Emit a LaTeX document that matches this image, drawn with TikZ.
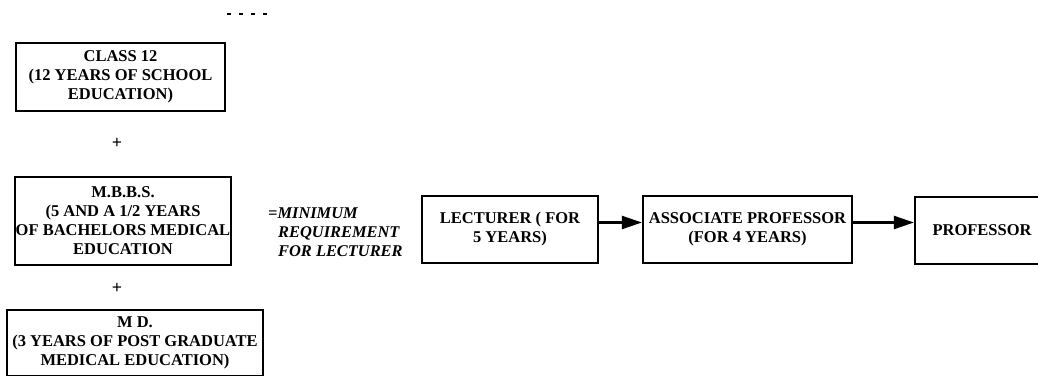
\documentclass[tikz,border=0pt]{standalone}
\usepackage{fontspec}
\setmainfont{Liberation Serif}
\usetikzlibrary{arrows.meta}
\begin{document}
\begin{tikzpicture}[x=1pt,y=-1pt,
  stagebox/.style={draw, line width=2.2pt, align=center, inner sep=0pt,
    font=\fontsize{16.5}{19}\selectfont\bfseries},
  plus/.style={font=\fontsize{18}{18}\selectfont\bfseries, inner sep=0pt},
  note/.style={align=left, inner sep=0pt,
    font=\fontsize{16.4}{19}\selectfont\bfseries\itshape},
  flow/.style={line width=2.2pt, -{Triangle[length=20pt,width=13pt]}}]
  \useasboundingbox (0,0) rectangle (1038,375);
  \clip (0,0) rectangle (1038,375);

  % short dashed mark at the top
  \coordinate (dashA) at (227,14);
  \coordinate (dashB) at (272,14);
  \draw[line width=1.6pt, dash pattern=on 4pt off 8pt] (dashA) -- (dashB);

  % qualification column
  \node[stagebox, minimum width=209pt, minimum height=68pt] (class) at (120.5,77)
    {CLASS 12\\(12 YEARS OF SCHOOL\\EDUCATION)};
  \node[plus] (plusA) at (117,143) {+};
  \node[stagebox, minimum width=216pt, minimum height=88pt] (mbbs) at (123,221)
    {M.B.B.S.\\(5 AND A 1/2 YEARS\\OF BACHELORS MEDICAL\\EDUCATION};
  \node[plus] (plusB) at (117,288) {+};
  \node[stagebox, minimum width=256pt, minimum height=66pt] (md) at (135,343)
    {M D.\\(3 YEARS OF POST GRADUATE\\MEDICAL EDUCATION)};

  \node[note, anchor=north west] (req) at (268,208)
    {=MINIMUM\\\hspace*{10pt}REQUIREMENT\\\hspace*{10pt}FOR LECTURER};

  % career ladder
  \node[stagebox, minimum width=176pt, minimum height=67pt] (lect) at (510,229.5)
    {LECTURER ( FOR\\5 YEARS)};
  \node[stagebox, minimum width=209pt, minimum height=67pt] (assoc) at (747.5,229.5)
    {ASSOCIATE PROFESSOR\\(FOR 4 YEARS)};
  \node[stagebox, minimum width=134pt, minimum height=67pt] (prof) at (982,230.5)
    {PROFESSOR};

  \draw[flow] ([yshift=7pt]lect.east) -- ([yshift=7pt]assoc.west);
  \draw[flow] ([yshift=7pt]assoc.east) -- ([yshift=8pt]prof.west);
\end{tikzpicture}
\end{document}
